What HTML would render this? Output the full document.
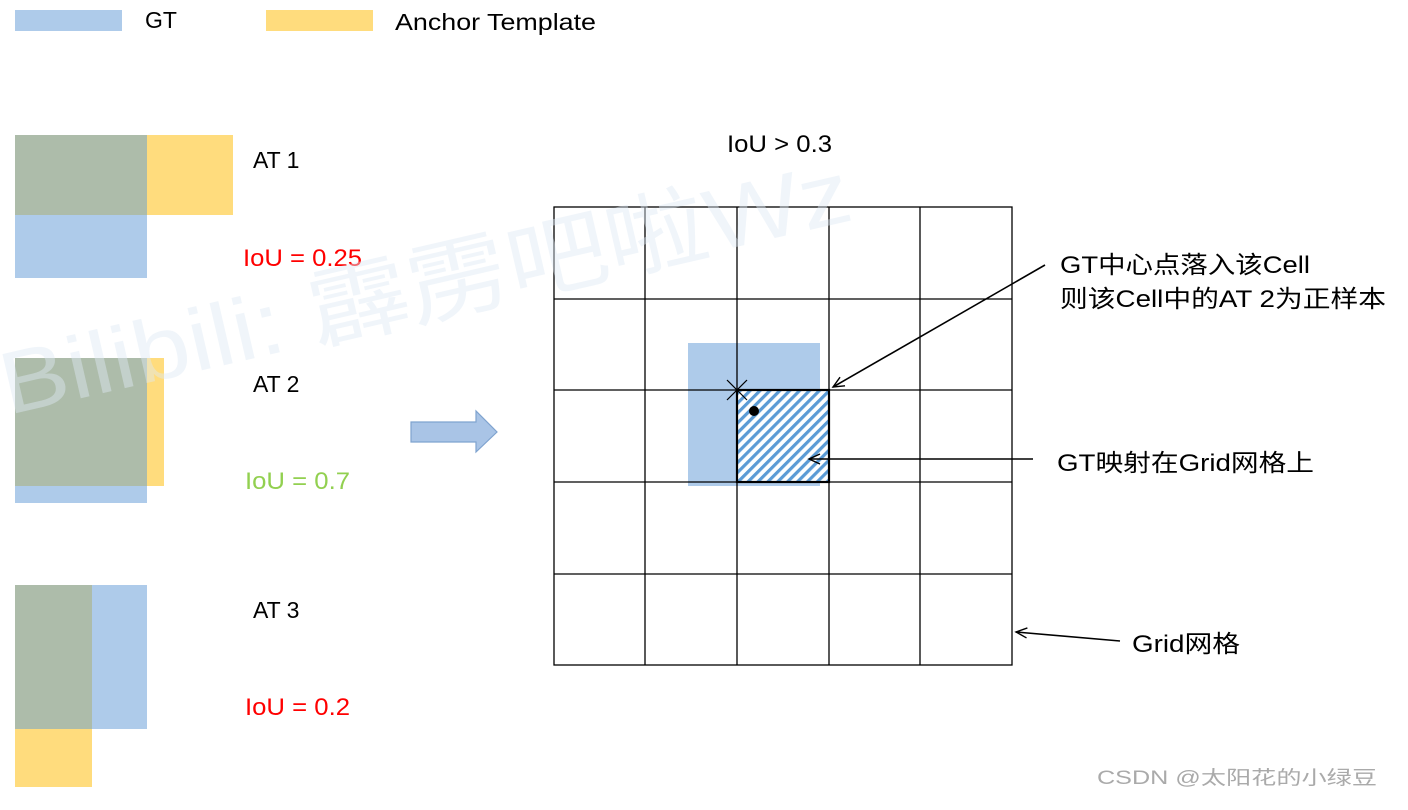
<!DOCTYPE html>
<html><head><meta charset="utf-8"><style>
html,body{margin:0;padding:0;background:#fff;width:1408px;height:810px;overflow:hidden}
svg{display:block}
text{font-family:"Liberation Sans","Noto Sans CJK SC",sans-serif}
</style></head><body>
<svg width="1408" height="810" viewBox="0 0 1408 810" xmlns="http://www.w3.org/2000/svg">
<defs>
<pattern id="h" width="7" height="7" patternUnits="userSpaceOnUse" patternTransform="rotate(45)">
<rect width="7" height="7" fill="#fff"/><rect width="3.2" height="7" fill="#5b9bd5"/>
</pattern>
<marker id="a" markerWidth="14" markerHeight="12" refX="12" refY="6" orient="auto" markerUnits="userSpaceOnUse">
<path d="M1,1 L12,6 L1,11" fill="none" stroke="#000" stroke-width="1.4"/>
</marker>
</defs>
<!-- legend -->
<rect x="15" y="10" width="107" height="21" fill="#aecbea"/>
<text x="145" y="28" font-size="23">GT</text>
<rect x="266" y="10" width="107" height="21" fill="#ffdc7d"/>
<text x="395" y="30" font-size="23" textLength="201" lengthAdjust="spacingAndGlyphs">Anchor Template</text>
<!-- AT1 -->
<rect x="15" y="135" width="132" height="80" fill="#adbcaa"/>
<rect x="147" y="135" width="86" height="80" fill="#ffdc7d"/>
<rect x="15" y="215" width="132" height="63" fill="#aecbea"/>
<text x="253" y="168" font-size="23">AT 1</text>
<text x="243" y="266" font-size="24" fill="#ff0000" textLength="119" lengthAdjust="spacingAndGlyphs">IoU = 0.25</text>
<!-- AT2 -->
<rect x="147" y="358" width="17" height="128" fill="#ffdc7d"/>
<rect x="15" y="358" width="132" height="128" fill="#adbcaa"/>
<rect x="15" y="486" width="132" height="17" fill="#aecbea"/>
<text x="253" y="392" font-size="23">AT 2</text>
<text x="245" y="489" font-size="24" fill="#92d050" textLength="105" lengthAdjust="spacingAndGlyphs">IoU = 0.7</text>
<!-- AT3 -->
<rect x="15" y="585" width="77" height="144" fill="#adbcaa"/>
<rect x="92" y="585" width="55" height="144" fill="#aecbea"/>
<rect x="15" y="729" width="77" height="58" fill="#ffdc7d"/>
<text x="253" y="618" font-size="23">AT 3</text>
<text x="245" y="715" font-size="24" fill="#ff0000" textLength="105" lengthAdjust="spacingAndGlyphs">IoU = 0.2</text>
<!-- block arrow -->
<path d="M411,422 L476,422 L476,411 L497,432 L476,452 L476,442 L411,442 Z" fill="#a9c4e6" stroke="#7fa3cf" stroke-width="1.2"/>
<!-- title -->
<text x="727" y="152" font-size="24" textLength="105" lengthAdjust="spacingAndGlyphs">IoU &gt; 0.3</text>
<!-- GT box and hatched cell -->
<rect x="688" y="343" width="132" height="143" fill="#aecbea"/>
<rect x="737" y="390" width="92" height="92" fill="url(#h)"/>
<!-- grid -->
<g stroke="#000" stroke-width="1.3" fill="none">
<rect x="554" y="207" width="458" height="458"/>
<line x1="645" y1="207" x2="645" y2="665"/><line x1="737" y1="207" x2="737" y2="665"/>
<line x1="829" y1="207" x2="829" y2="665"/><line x1="920" y1="207" x2="920" y2="665"/>
<line x1="554" y1="299" x2="1012" y2="299"/><line x1="554" y1="390" x2="1012" y2="390"/>
<line x1="554" y1="482" x2="1012" y2="482"/><line x1="554" y1="574" x2="1012" y2="574"/>
<rect x="737" y="390" width="92" height="92" stroke-width="2.2"/>
<line x1="727" y1="380" x2="747" y2="400" stroke-width="1.2"/><line x1="747" y1="380" x2="727" y2="400" stroke-width="1.2"/>
</g>
<circle cx="754" cy="411" r="5" fill="#000"/>
<!-- watermark -->
<text x="8" y="415" font-size="88" fill="#dde8f4" fill-opacity="0.45" transform="rotate(-13 8 415)" textLength="870" lengthAdjust="spacingAndGlyphs">Bilibili: 霹雳吧啦Wz</text>
<!-- connectors -->
<g stroke="#000" stroke-width="1.6" fill="none">
<line x1="1045" y1="265" x2="833" y2="387" marker-end="url(#a)"/>
<line x1="1033" y1="459" x2="809" y2="459" marker-end="url(#a)"/>
<line x1="1120" y1="641" x2="1016" y2="632" marker-end="url(#a)"/>
</g>
<text x="1060" y="273" font-size="24" textLength="250" lengthAdjust="spacingAndGlyphs">GT中心点落入该Cell</text>
<text x="1060" y="307" font-size="24" textLength="326" lengthAdjust="spacingAndGlyphs">则该Cell中的AT 2为正样本</text>
<text x="1057" y="471" font-size="24" textLength="257" lengthAdjust="spacingAndGlyphs">GT映射在Grid网格上</text>
<text x="1132" y="652" font-size="24" textLength="108" lengthAdjust="spacingAndGlyphs">Grid网格</text>
<text x="1097" y="784" font-size="19" fill="#aaa" textLength="280" lengthAdjust="spacingAndGlyphs">CSDN @太阳花的小绿豆</text>
</svg>
</body></html>
